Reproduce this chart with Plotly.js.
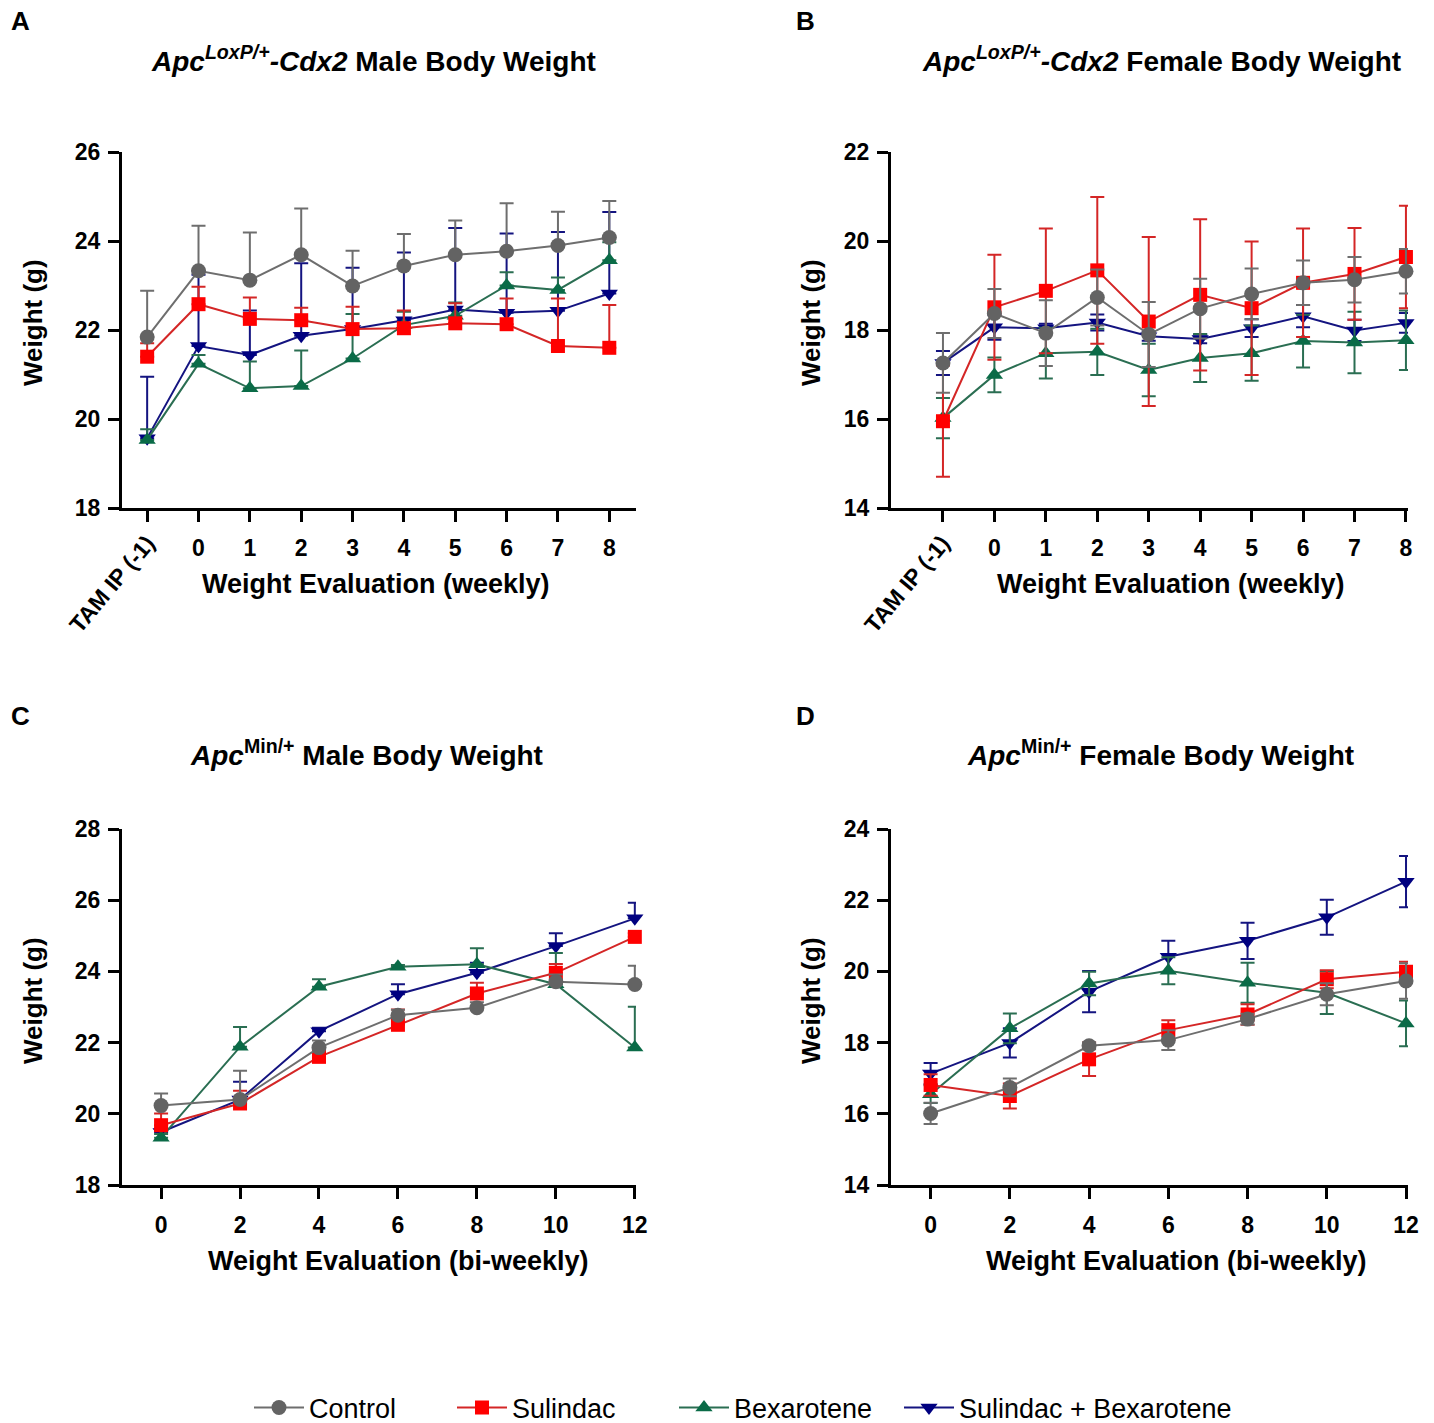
<!DOCTYPE html>
<html><head><meta charset="utf-8">
<script src="https://cdn.plot.ly/plotly-3.0.1.min.js"></script>
<style>body{margin:0;padding:0;background:#fff}#chart{width:1434px;height:1423px}</style>
</head><body><div id="chart"></div>
<script>
// ---------- data ----------
const seriesNames = ['Control', 'Sulindac', 'Bexarotene', 'Sulindac + Bexarotene'];

const weeklyX = [-1, 0, 1, 2, 3, 4, 5, 6, 7, 8];
const weeklyTickText = ['TAM IP (-1)', '0', '1', '2', '3', '4', '5', '6', '7', '8'];
const biweeklyX = [0, 2, 4, 6, 8, 10, 12];

// Panel A: ApcLoxP/+-Cdx2 male (mean, upper SEM)
const A_control = [21.84, 23.33, 23.12, 23.69, 22.99, 23.44, 23.69, 23.77, 23.90, 24.08];
const A_control_err = [1.04, 1.01, 1.07, 1.04, 0.79, 0.72, 0.77, 1.08, 0.76, 0.82];
const A_sulindac = [21.40, 22.58, 22.25, 22.22, 22.02, 22.04, 22.15, 22.13, 21.64, 21.60];
const A_sulindac_err = [0.30, 0.39, 0.48, 0.28, 0.50, 0.40, 0.45, 0.58, 1.07, 0.96];
const A_bex = [19.53, 21.24, 20.69, 20.74, 21.36, 22.11, 22.32, 23.00, 22.90, 23.57];
const A_bex_err = [0.24, 0.20, 0.60, 0.80, 1.00, 0.30, 0.30, 0.30, 0.28, 0.40];
const A_combo = [19.57, 21.64, 21.44, 21.87, 22.02, 22.22, 22.46, 22.39, 22.43, 22.82];
const A_combo_err = [1.38, 1.60, 1.00, 1.63, 1.38, 1.52, 1.83, 1.78, 1.77, 1.83];

// Panel B: ApcLoxP/+-Cdx2 female (mean ± SEM)
const B_control = [17.26, 18.37, 17.93, 18.73, 17.90, 18.48, 18.81, 19.06, 19.13, 19.32];
const B_control_err = [0.67, 0.55, 0.74, 0.63, 0.73, 0.67, 0.57, 0.50, 0.51, 0.50];
const B_sulindac = [15.95, 18.51, 18.88, 19.34, 18.19, 18.79, 18.49, 19.06, 19.26, 19.64];
const B_sulindac_err = [1.25, 1.18, 1.40, 1.65, 1.90, 1.70, 1.50, 1.22, 1.03, 1.15];
const B_bex = [16.02, 16.99, 17.48, 17.51, 17.10, 17.37, 17.48, 17.75, 17.72, 17.77];
const B_bex_err = [0.45, 0.39, 0.57, 0.52, 0.59, 0.54, 0.62, 0.59, 0.69, 0.67];
const B_combo = [17.26, 18.06, 18.04, 18.17, 17.86, 17.80, 18.04, 18.31, 17.99, 18.16];
const B_combo_err = [0.27, 0.28, 0.10, 0.18, 0.10, 0.10, 0.20, 0.25, 0.24, 0.22];

// Panel C: ApcMin/+ male (mean, upper SEM)
const C_control = [20.23, 20.40, 21.86, 22.77, 22.98, 23.71, 23.63];
const C_control_err = [0.34, 0.81, 0.20, 0.15, 0.15, 0.20, 0.53];
const C_sulindac = [19.68, 20.29, 21.60, 22.50, 23.38, 23.96, 24.97];
const C_sulindac_err = [0.33, 0.36, 0.30, 0.43, 0.30, 0.25, 0.10];
const C_bex = [19.33, 21.88, 23.57, 24.13, 24.20, 23.64, 21.86];
const C_bex_err = [0.10, 0.56, 0.21, 0.05, 0.45, 0.88, 1.15];
const C_combo = [19.49, 20.40, 22.32, 23.36, 23.96, 24.71, 25.49];
const C_combo_err = [0.10, 0.50, 0.10, 0.28, 0.28, 0.36, 0.44];

// Panel D: ApcMin/+ female (mean ± SEM)
const D_control = [16.01, 16.74, 17.91, 18.07, 18.66, 19.36, 19.73];
const D_control_err = [0.30, 0.25, 0.10, 0.28, 0.15, 0.31, 0.50];
const D_sulindac = [16.81, 16.50, 17.53, 18.35, 18.79, 19.78, 19.99];
const D_sulindac_err = [0.30, 0.35, 0.47, 0.28, 0.29, 0.25, 0.28];
const D_bex = [16.55, 18.40, 19.66, 20.02, 19.68, 19.40, 18.54];
const D_bex_err = [0.25, 0.42, 0.33, 0.38, 0.56, 0.60, 0.64];
const D_combo = [17.13, 17.99, 19.43, 20.41, 20.86, 21.52, 22.52];
const D_combo_err = [0.30, 0.41, 0.58, 0.45, 0.51, 0.49, 0.72];

// ---------- styles ----------
const FONT = 'Liberation Sans, Arial, Helvetica, sans-serif';
const styles = [
  {marker: '#636363', line: '#6e6e6e', symbol: 'circle', size: 15},
  {marker: '#ff0000', line: '#d42626', symbol: 'square', size: 14},
  {marker: '#0a6b47', line: '#2a6e52', symbol: 'triangle-up', size: 15},
  {marker: '#000080', line: '#141480', symbol: 'triangle-down', size: 15}
];
const legendIds = ['legend', 'legend2', 'legend3', 'legend4'];
const legendLeft = [249, 452, 674, 899];

const panels = [
  {xa: 'x', ya: 'y', x: weeklyX, sym: false,
   vals: [A_control, A_sulindac, A_bex, A_combo], errs: [A_control_err, A_sulindac_err, A_bex_err, A_combo_err]},
  {xa: 'x2', ya: 'y2', x: weeklyX, sym: true,
   vals: [B_control, B_sulindac, B_bex, B_combo], errs: [B_control_err, B_sulindac_err, B_bex_err, B_combo_err]},
  {xa: 'x3', ya: 'y3', x: biweeklyX, sym: false,
   vals: [C_control, C_sulindac, C_bex, C_combo], errs: [C_control_err, C_sulindac_err, C_bex_err, C_combo_err]},
  {xa: 'x4', ya: 'y4', x: biweeklyX, sym: true,
   vals: [D_control, D_sulindac, D_bex, D_combo], errs: [D_control_err, D_sulindac_err, D_bex_err, D_combo_err]}
];

const traces = [];
panels.forEach((p, pi) => {
  for (let s = 3; s >= 0; s--) {
    const st = styles[s];
    const err = p.sym
      ? {type: 'data', array: p.errs[s], symmetric: true, color: st.line, thickness: 2, width: 7}
      : {type: 'data', array: p.errs[s], arrayminus: p.errs[s].map(() => 0), symmetric: false, color: st.line, thickness: 2, width: 7};
    traces.push({
      type: 'scatter', mode: 'lines+markers',
      x: p.x, y: p.vals[s], xaxis: p.xa, yaxis: p.ya,
      name: seriesNames[s], showlegend: pi === 0, legend: legendIds[s],
      line: {color: st.line, width: 2},
      marker: {color: st.marker, symbol: st.symbol, size: st.size, line: {width: 0}},
      error_y: err, cliponaxis: false
    });
  }
});

function xAxis(domain, range, tickvals, ticktext, anchor, minorVals) {
  const a = {domain, range, tickmode: 'array', tickvals, ticktext, anchor, showgrid: false, zeroline: false,
    showline: true, linecolor: '#000', linewidth: 3, ticks: 'outside', ticklen: 11, tickwidth: 3, tickcolor: '#000',
    tickfont: {family: FONT, size: 23, color: '#000', weight: 700}, ticklabelstandoff: 6, fixedrange: true};
  if (minorVals) a.minor = {tickmode: 'array', tickvals: minorVals, ticks: 'outside', ticklen: 11, tickwidth: 3, tickcolor: '#000', showgrid: false};
  return a;
}
function yAxis(domain, range, anchor) {
  return {domain, range, anchor, dtick: 2, tick0: 0, showgrid: false, zeroline: false,
    showline: true, linecolor: '#000', linewidth: 3, ticks: 'outside', ticklen: 11, tickwidth: 3, tickcolor: '#000',
    tickfont: {family: FONT, size: 23, color: '#000', weight: 700}, ticklabelstandoff: 3, fixedrange: true};
}
const W = 1434, H = 1423;
const px = v => v / W, py = v => 1 - v / H;

const weeklyMain = weeklyX.slice(1), weeklyMainText = weeklyTickText.slice(1), weeklyMinor = weeklyX.slice(0, 1);

const layout = {
  width: W, height: H, margin: {l: 0, r: 0, t: 0, b: 0, autoexpand: false},
  paper_bgcolor: '#fff', plot_bgcolor: '#fff',
  font: {family: FONT, color: '#000'},
  xaxis: xAxis([px(122), px(636)], [-1.49, 8.52], weeklyMain, weeklyMainText, 'y', weeklyMinor),
  yaxis: yAxis([py(508), py(152)], [18, 26], 'x'),
  xaxis2: xAxis([px(891), px(1408)], [-2.01, 8.04], weeklyMain, weeklyMainText, 'y2', weeklyMinor),
  yaxis2: yAxis([py(508), py(152)], [14, 22], 'x2'),
  xaxis3: xAxis([px(122), px(636)], [-0.99, 12.03], biweeklyX, biweeklyX.map(String), 'y3'),
  yaxis3: yAxis([py(1185), py(829)], [18, 28], 'x3'),
  xaxis4: xAxis([px(891), px(1408)], [-1.0, 12.05], biweeklyX, biweeklyX.map(String), 'y4'),
  yaxis4: yAxis([py(1185), py(829)], [14, 24], 'x4'),
  showlegend: true,
  annotations: []
};
legendIds.forEach((id, i) => {
  layout[id] = {orientation: 'h', x: px(legendLeft[i]), y: py(1408), xanchor: 'left', yanchor: 'middle',
    itemwidth: 50, font: {family: FONT, size: 27, color: '#000'}, bgcolor: 'rgba(0,0,0,0)', borderwidth: 0};
});

function ann(text, x, y, size, opts) {
  layout.annotations.push(Object.assign({text, x: px(x), y: py(y), xref: 'paper', yref: 'paper',
    showarrow: false, xanchor: 'center', yanchor: 'middle',
    font: {family: FONT, size, color: '#000', weight: 700}}, opts || {}));
}
// panel letters
ann('A', 20, 21, 26); ann('B', 805, 21, 26); ann('C', 20, 716, 26); ann('D', 805, 716, 26);
// titles
ann('<i>Apc</i><sup><i>LoxP/+</i></sup><i>-Cdx2</i> Male Body Weight', 373, 59, 28);
ann('<i>Apc</i><sup><i>LoxP/+</i></sup><i>-Cdx2</i> Female Body Weight', 1161, 59, 28);
ann('<i>Apc</i><sup>Min/+</sup> Male Body Weight', 366, 753, 28);
ann('<i>Apc</i><sup>Min/+</sup> Female Body Weight', 1160, 753, 28);
// x titles
ann('Weight Evaluation (weekly)', 376, 584, 27);
ann('Weight Evaluation (weekly)', 1171, 584, 27);
ann('Weight Evaluation (bi-weekly)', 399, 1261, 27);
ann('Weight Evaluation (bi-weekly)', 1176, 1261, 27);
// y titles
ann('Weight (g)', 33, 323, 26, {textangle: -90});
ann('Weight (g)', 811, 323, 26, {textangle: -90});
ann('Weight (g)', 33, 1001, 26, {textangle: -90});
ann('Weight (g)', 811, 1001, 26, {textangle: -90});
// rotated first tick label
ann(weeklyTickText[0], 112, 584, 23, {textangle: -50});
ann(weeklyTickText[0], 907, 584, 23, {textangle: -50});

Plotly.newPlot('chart', traces, layout, {staticPlot: true, displayModeBar: false});
</script></body></html>
